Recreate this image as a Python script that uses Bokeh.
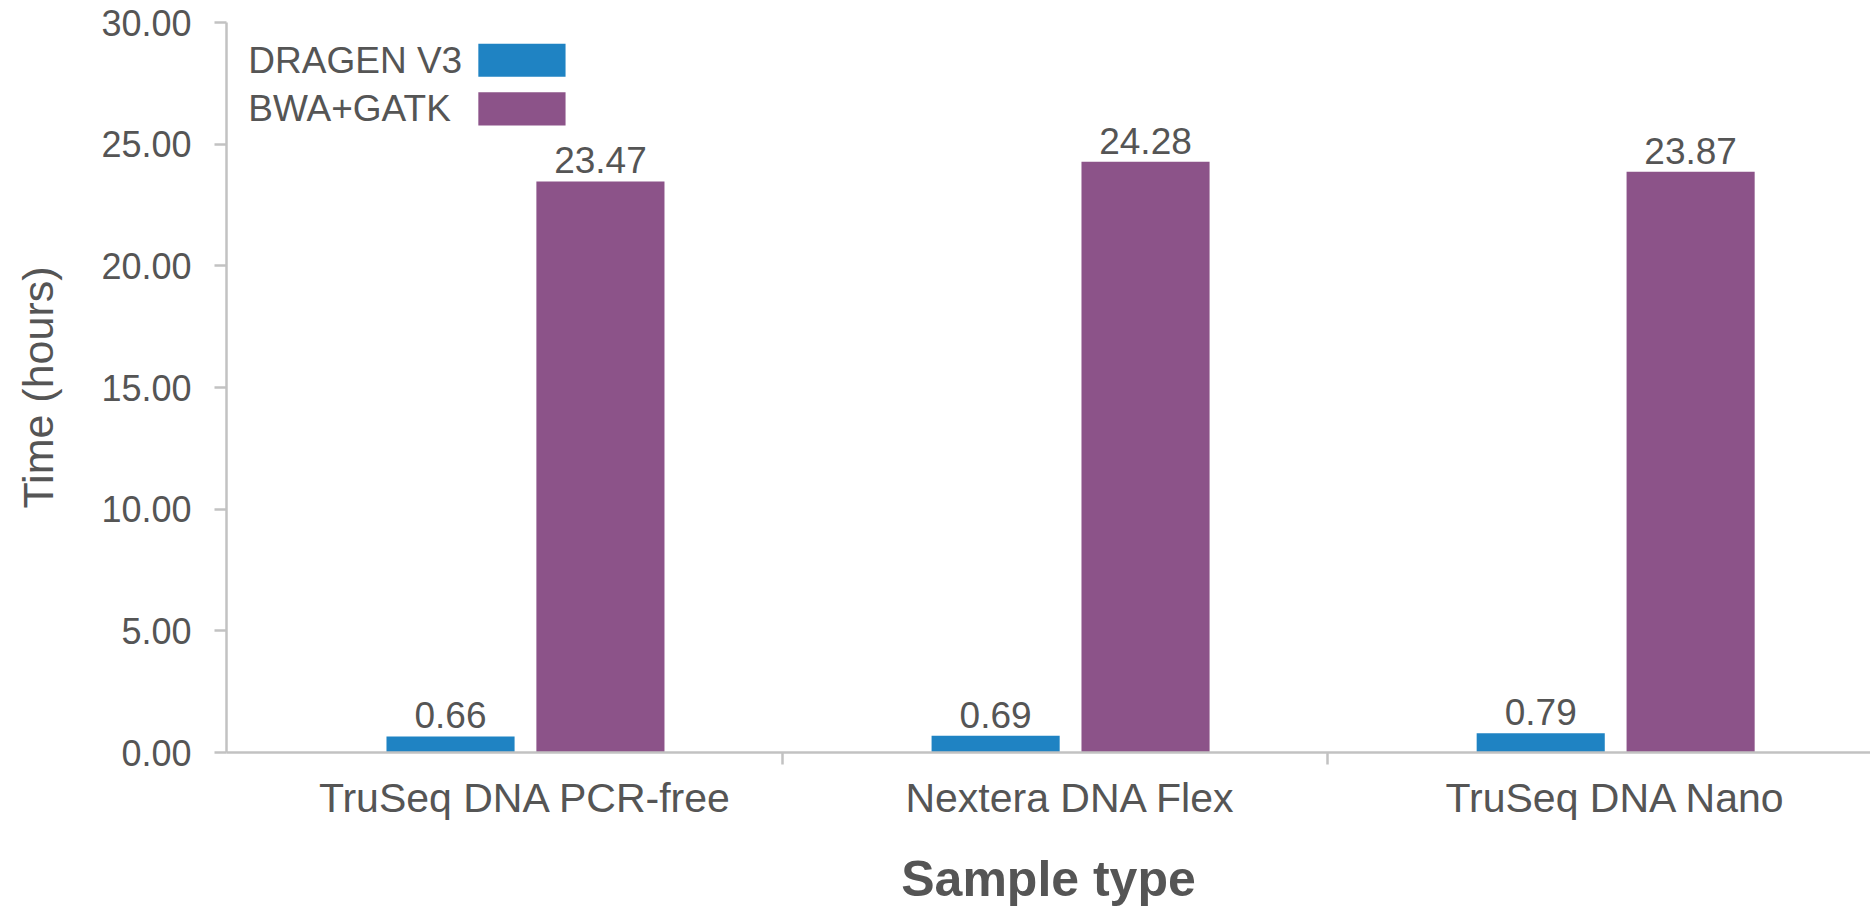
from bokeh.plotting import figure
from bokeh.core.properties import value
from bokeh.models import (ColumnDataSource, FixedTicker, NumeralTickFormatter,
                          LabelSet, Label, BoxAnnotation, Range1d)
from bokeh.embed import file_html
from bokeh.resources import INLINE

# ---- data ----
categories = ["TruSeq DNA PCR-free", "Nextera DNA Flex", "TruSeq DNA Nano"]
series_names = ["DRAGEN V3", "BWA+GATK"]
dragen_v3 = [0.66, 0.69, 0.79]
bwa_gatk = [23.47, 24.28, 23.87]
y_ticks = [0, 5, 10, 15, 20, 25, 30]

# ---- style ----
BLUE = "#1f83c3"
PURPLE = "#8c5389"
TEXT = "#555555"
AXIS = "#c2c2c2"
FONT = "Liberation Sans"

blue_off, purple_off, bar_w = 0.391, 0.666, 0.235
idx = list(range(len(categories)))
blue_x = [i + blue_off for i in idx]
purple_x = [i + purple_off for i in idx]
label_x = [i + (blue_off + purple_off) / 2 for i in idx]

p = figure(width=1870, height=909, output_backend="svg", toolbar_location=None,
           x_range=Range1d(-0.02, 2.996), y_range=Range1d(0, 30),
           min_border_left=226, min_border_right=0, min_border_top=22,
           min_border_bottom=157)
p.outline_line_color = None
p.background_fill_color = "white"
p.xgrid.visible = False
p.ygrid.ticker = FixedTicker(ticks=[y_ticks[-1]])
p.ygrid.grid_line_color = AXIS
p.ygrid.grid_line_width = 3

# bars
src_b = ColumnDataSource(dict(x=blue_x, top=dragen_v3, txt=[f"{v:.2f}" for v in dragen_v3]))
src_p = ColumnDataSource(dict(x=purple_x, top=bwa_gatk, txt=[f"{v:.2f}" for v in bwa_gatk]))
p.vbar(x="x", top="top", width=bar_w, source=src_b, fill_color=BLUE, line_color=None)
p.vbar(x="x", top="top", width=bar_w, source=src_p, fill_color=PURPLE, line_color=None)

for src in (src_b, src_p):
    p.add_layout(LabelSet(x="x", y="top", text="txt", source=src, y_offset=8,
                          text_align="center", text_baseline="bottom",
                          text_font=value(FONT), text_font_size=value("37px"),
                          text_color=value(TEXT)))

# y axis
ya = p.yaxis[0]
ya.ticker = FixedTicker(ticks=y_ticks)
ya.formatter = NumeralTickFormatter(format="0.00")
ya.axis_line_color = AXIS
ya.axis_line_width = 2.5
ya.major_tick_line_color = AXIS
ya.major_tick_line_width = 2.5
ya.major_tick_out = 12
ya.major_tick_in = 0
ya.minor_tick_line_color = None
ya.major_label_text_font = FONT
ya.major_label_text_font_size = "36px"
ya.major_label_text_color = TEXT
ya.major_label_standoff = 23
ya.axis_label = "Time (hours)"
ya.axis_label_text_font = FONT
ya.axis_label_text_font_size = "43px"
ya.axis_label_text_font_style = "normal"
ya.axis_label_text_color = TEXT
ya.axis_label_standoff = 36

# x axis
xa = p.xaxis[0]
xa.ticker = FixedTicker(ticks=label_x, minor_ticks=[1, 2])
xa.major_label_overrides = {x: c for x, c in zip(label_x, categories)}
xa.axis_line_color = AXIS
xa.axis_line_width = 2.5
xa.major_tick_line_color = None
xa.major_tick_out = 0
xa.major_tick_in = 0
xa.minor_tick_line_color = AXIS
xa.minor_tick_line_width = 2.5
xa.minor_tick_out = 12
xa.minor_tick_in = 0
xa.major_label_text_font = FONT
xa.major_label_text_font_size = "41px"
xa.major_label_text_color = TEXT
xa.major_label_standoff = 10
xa.axis_label = "Sample type"
xa.axis_label_text_font = FONT
xa.axis_label_text_font_size = "50px"
xa.axis_label_text_font_style = "bold"
xa.axis_label_text_color = TEXT
xa.axis_label_standoff = 27

# legend (labels left, swatches right)
leg_rows = [(series_names[0], BLUE, 28.45), (series_names[1], PURPLE, 26.45)]
for name, col, yc in leg_rows:
    p.add_layout(Label(x=0.02, y=yc, text=name, text_align="left", text_baseline="middle",
                       text_font=FONT, text_font_size="37px", text_color=TEXT))
    p.add_layout(BoxAnnotation(left=0.442, right=0.602, top=yc + 0.68, bottom=yc - 0.68,
                               fill_color=col, fill_alpha=1.0, line_alpha=0))

open("out.html", "w").write(file_html(p, INLINE))
